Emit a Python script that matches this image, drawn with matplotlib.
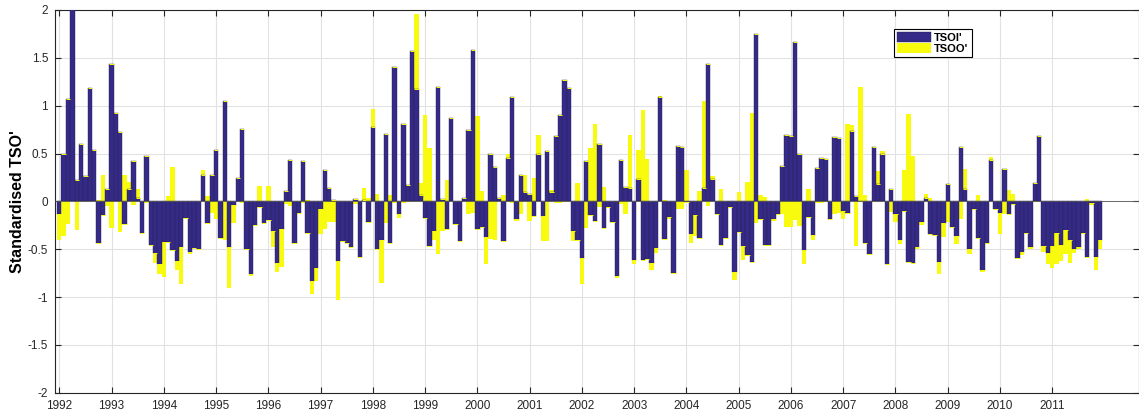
import matplotlib
matplotlib.use('Agg')
import matplotlib.pyplot as plt
import numpy as np

plt.rcParams['font.family'] = ['Liberation Sans', 'DejaVu Sans']

# monthly standardised anomalies, Jan 1992 - Dec 2011
start_year = 1992
tsoi = [
    -0.13, 0.49, 1.07, 2.02, 0.22, 0.60, 0.26, 1.18, 0.54, -0.44, -0.14, 0.13,
    1.44, 0.92, 0.72, -0.24, 0.13, 0.42, 0.04, -0.33, 0.47, -0.46, -0.54, -0.65,
    -0.42, -0.42, -0.51, -0.62, -0.48, -0.17, -0.53, -0.49, -0.50, 0.28, -0.23, 0.28,
    0.54, -0.38, 1.05, -0.48, -0.04, 0.24, 0.76, -0.50, -0.76, -0.25, -0.06, -0.23,
    -0.20, -0.31, -0.64, -0.29, 0.11, 0.43, -0.44, -0.12, 0.42, -0.33, -0.83, -0.70,
    -0.08, 0.33, 0.14, 0.01, -0.62, -0.41, -0.44, -0.48, 0.02, -0.58, 0.01, -0.22,
    0.78, -0.50, -0.40, 0.70, -0.44, 1.40, -0.13, 0.81, 0.17, 1.57, 1.17, 0.07,
    -0.17, -0.47, -0.31, 1.20, 0.02, -0.29, 0.87, -0.24, -0.41, 0.04, 0.75, 1.58,
    -0.29, -0.27, -0.37, 0.49, 0.36, 0.04, -0.41, 0.45, 1.09, -0.18, 0.28, 0.10,
    0.08, -0.15, 0.49, -0.15, 0.53, 0.10, 0.68, 0.90, 1.27, 1.18, -0.31, -0.40,
    -0.59, 0.42, -0.14, -0.21, 0.60, -0.28, -0.06, -0.22, -0.78, 0.43, 0.15, 0.14,
    -0.61, 0.23, -0.61, -0.60, -0.64, -0.49, 1.09, -0.39, -0.16, -0.75, 0.58, 0.57,
    -0.01, -0.34, -0.14, -0.38, 0.14, 1.44, 0.23, -0.13, -0.46, -0.38, -0.06, -0.74,
    -0.32, -0.47, -0.56, -0.63, 1.75, -0.18, -0.46, -0.46, -0.18, -0.13, 0.37, 0.69,
    0.68, 1.67, 0.50, -0.51, -0.16, -0.35, 0.35, 0.45, 0.44, -0.18, 0.67, 0.66,
    -0.10, -0.12, 0.74, 0.06, 0.00, -0.44, -0.55, 0.57, 0.18, 0.49, -0.65, 0.13,
    -0.13, -0.40, -0.10, -0.63, -0.64, -0.48, -0.22, 0.04, -0.34, -0.35, -0.63, -0.23,
    0.18, -0.27, -0.36, 0.57, 0.13, -0.50, -0.08, -0.38, -0.72, -0.44, 0.43, -0.08,
    -0.12, 0.34, -0.13, -0.03, -0.59, -0.53, -0.33, -0.48, 0.19, 0.68, -0.47, -0.54,
    -0.47, -0.33, -0.46, -0.30, -0.40, -0.50, -0.48, -0.33, -0.58, -0.02, -0.58, -0.40,
]
tsoo = [
    -0.40, -0.36, -0.24, 0.00, -0.30, -0.01, 0.00, 0.00, 0.00, 0.01, 0.28, -0.05,
    -0.28, 0.00, -0.32, 0.28, 0.20, -0.04, 0.13, 0.00, -0.02, 0.00, -0.64, -0.76,
    -0.79, 0.06, 0.36, -0.72, -0.86, 0.00, -0.55, 0.00, 0.00, 0.33, 0.06, -0.12,
    -0.18, -0.06, -0.40, -0.91, -0.23, 0.01, -0.02, 0.00, -0.78, 0.00, 0.16, -0.24,
    0.16, -0.48, -0.74, -0.69, -0.03, -0.05, -0.45, -0.13, -0.02, 0.01, -0.97, -0.83,
    -0.34, -0.29, -0.22, -0.22, -1.03, -0.42, 0.00, -0.49, -0.03, -0.59, 0.14, 0.04,
    0.97, 0.08, -0.85, -0.23, 0.07, -0.02, -0.17, -0.02, -0.01, -0.01, 1.96, 0.19,
    0.90, 0.56, -0.40, -0.55, -0.31, 0.22, 0.00, -0.25, 0.00, -0.01, -0.13, -0.12,
    0.89, 0.11, -0.65, -0.39, -0.40, 0.02, 0.07, 0.49, -0.02, -0.21, -0.13, 0.28,
    -0.21, 0.24, 0.69, -0.41, -0.41, 0.12, -0.02, -0.02, -0.01, 0.00, -0.41, 0.19,
    -0.86, -0.28, 0.56, 0.81, -0.06, 0.15, -0.07, 0.00, -0.80, -0.03, -0.13, 0.69,
    -0.65, 0.54, 0.96, 0.44, -0.72, -0.54, 1.10, 0.01, -0.18, -0.76, -0.08, -0.08,
    0.33, -0.44, -0.36, 0.11, 1.05, -0.05, 0.26, 0.00, 0.13, 0.00, -0.04, -0.82,
    0.10, -0.61, 0.20, 0.92, -0.23, 0.07, 0.05, -0.47, -0.21, 0.00, -0.13, -0.27,
    -0.27, -0.20, -0.26, -0.66, 0.13, -0.40, -0.02, -0.02, 0.00, -0.20, -0.13, -0.12,
    -0.18, 0.81, 0.80, -0.47, 1.19, 0.07, 0.00, -0.01, 0.32, 0.53, 0.00, -0.11,
    -0.22, -0.45, 0.33, 0.91, 0.47, -0.50, -0.25, 0.08, 0.03, 0.00, -0.76, -0.37,
    -0.22, 0.00, -0.45, -0.18, 0.34, -0.55, 0.00, 0.07, -0.74, -0.45, 0.46, -0.05,
    -0.34, -0.13, 0.12, 0.08, -0.60, -0.56, 0.00, -0.50, -0.01, 0.00, -0.53, -0.65,
    -0.70, -0.65, -0.62, -0.55, -0.64, -0.54, -0.50, -0.34, 0.02, -0.04, -0.72, -0.50,
]
years = list(range(1992, 2012))
yticks = [-2, -1.5, -1, -0.5, 0, 0.5, 1, 1.5, 2]
ytick_labels = ['-2', '-1.5', '-1', '-0.5', '0', '0.5', '1', '1.5', '2']

blue = '#352a87'
yellow = '#f9fb0e'

t = start_year + np.arange(len(tsoi)) / 12.0
w = 1 / 12.0

fig = plt.figure(figsize=(11.39, 4.12), dpi=100)
ax = fig.add_axes([55 / 1139, 19.3 / 412, 1083.5 / 1139, 382.7 / 412])

yb = ax.bar(t, tsoo, width=w, color=yellow, edgecolor='none', zorder=2)
bb = ax.bar(t, tsoi, width=w, color=blue, edgecolor='#2a2450', linewidth=0.3, zorder=3)
ax.hlines(tsoi, t - w / 2, t + w / 2, colors=yellow, lw=0.7, zorder=4)
ax.axhline(0, color='#555555', lw=0.6, zorder=5)

ax.set_xlim(1991.918, 2012.65)
ax.set_ylim(-2, 2)
ax.set_xticks(years)
ax.set_xticklabels([str(y) for y in years])
ax.set_yticks(yticks)
ax.set_yticklabels(ytick_labels)

ax.grid(True, color='#e2e2e2', lw=0.8)
ax.set_axisbelow(True)
ax.tick_params(direction='in', top=True, right=True, length=4, width=0.8,
               colors='#262626', labelsize=8.5, pad=5)
for s in ax.spines.values():
    s.set_color('#262626')
    s.set_linewidth(0.8)

ax.set_ylabel("Standardised TSO'", fontweight='bold', fontsize=11.5)
ax.yaxis.set_label_coords(-0.028, 0.5)

leg = fig.legend([bb, yb], ["TSOI'", "TSOO'"], loc='upper left',
                 bbox_to_anchor=(894 / 1139, 1 - 29 / 412), bbox_transform=fig.transFigure,
                 borderaxespad=0, fancybox=False, edgecolor='black', framealpha=1,
                 prop={'weight': 'bold', 'size': 8}, handlelength=3.0, handleheight=0.9,
                 handletextpad=0.3, borderpad=0.3, labelspacing=0.05)
leg.get_frame().set_linewidth(0.8)

fig.savefig('out.png', dpi=100)
